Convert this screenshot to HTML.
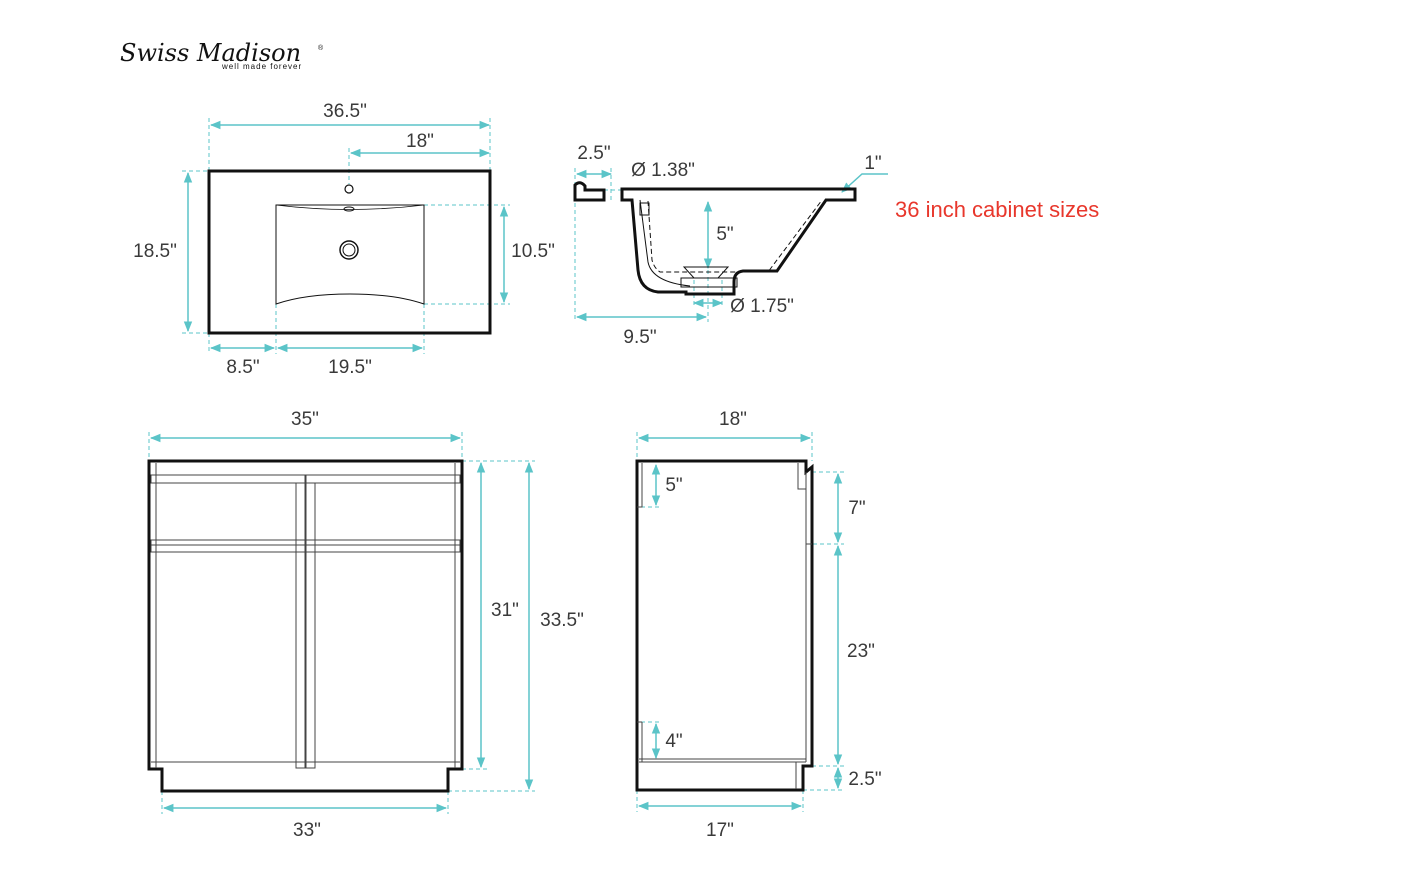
<!DOCTYPE html>
<html><head><meta charset="utf-8"><style>
body{margin:0;background:#fff;width:1402px;height:864px;overflow:hidden}
svg text{font-family:"Liberation Sans",sans-serif;fill:#3a3a3a;font-size:19px}
</style></head><body>
<svg width="1402" height="864" viewBox="0 0 1402 864" xmlns="http://www.w3.org/2000/svg">
<defs>
<marker id="a" viewBox="0 0 10 10" refX="9" refY="5" markerWidth="7" markerHeight="7" orient="auto-start-reverse"><path d="M0,1 L10,5 L0,9 z" fill="#5bc4c8"/></marker>
</defs>
<text x="120" y="61" style="font-family:'DejaVu Serif',serif;font-style:italic;font-size:24px;fill:#111">Swiss Madison</text>
<text x="222" y="69" style="font-size:8px;fill:#111;letter-spacing:1px">well made forever</text>
<text x="318" y="50" style="font-size:7px;fill:#111">®</text>

<g fill="none" stroke="#5bc4c8" stroke-width="1.5">
<line x1="211" y1="125" x2="489" y2="125" marker-start="url(#a)" marker-end="url(#a)"/>
<line x1="351" y1="153" x2="489" y2="153" marker-start="url(#a)" marker-end="url(#a)"/>
<line x1="188" y1="173" x2="188" y2="331" marker-start="url(#a)" marker-end="url(#a)"/>
<line x1="504" y1="207" x2="504" y2="302" marker-start="url(#a)" marker-end="url(#a)"/>
<line x1="211" y1="348" x2="274" y2="348" marker-start="url(#a)" marker-end="url(#a)"/>
<line x1="278" y1="348" x2="422" y2="348" marker-start="url(#a)" marker-end="url(#a)"/>
<line x1="577" y1="174" x2="611" y2="174" marker-start="url(#a)" marker-end="url(#a)"/>
<line x1="708" y1="202" x2="708" y2="268" marker-start="url(#a)" marker-end="url(#a)"/>
<line x1="694" y1="303" x2="722" y2="303" marker-start="url(#a)" marker-end="url(#a)"/>
<line x1="577" y1="317" x2="706" y2="317" marker-start="url(#a)" marker-end="url(#a)"/>
<polyline points="888,174 862,174 842,192" marker-end="url(#a)"/>
<line x1="151" y1="438" x2="460" y2="438" marker-start="url(#a)" marker-end="url(#a)"/>
<line x1="481" y1="463" x2="481" y2="767" marker-start="url(#a)" marker-end="url(#a)"/>
<line x1="529" y1="463" x2="529" y2="789" marker-start="url(#a)" marker-end="url(#a)"/>
<line x1="164" y1="808" x2="446" y2="808" marker-start="url(#a)" marker-end="url(#a)"/>
<line x1="639" y1="438" x2="810" y2="438" marker-start="url(#a)" marker-end="url(#a)"/>
<line x1="639" y1="806" x2="801" y2="806" marker-start="url(#a)" marker-end="url(#a)"/>
<line x1="838" y1="474" x2="838" y2="542" marker-start="url(#a)" marker-end="url(#a)"/>
<line x1="838" y1="546" x2="838" y2="764" marker-start="url(#a)" marker-end="url(#a)"/>
<line x1="838" y1="768" x2="838" y2="788" marker-start="url(#a)" marker-end="url(#a)"/>
<line x1="656" y1="465" x2="656" y2="505" marker-start="url(#a)" marker-end="url(#a)"/>
<line x1="656" y1="724" x2="656" y2="758" marker-start="url(#a)" marker-end="url(#a)"/>
</g>
<g fill="none" stroke="#5bc4c8" stroke-width="1" stroke-dasharray="4,3">
<line x1="209" y1="118" x2="209" y2="171"/><line x1="490" y1="118" x2="490" y2="171"/>
<line x1="349" y1="148" x2="349" y2="184"/>
<line x1="182" y1="171" x2="209" y2="171"/><line x1="182" y1="333" x2="209" y2="333"/>
<line x1="424" y1="205" x2="510" y2="205"/><line x1="424" y1="304" x2="510" y2="304"/>
<line x1="209" y1="333" x2="209" y2="354"/><line x1="276" y1="304" x2="276" y2="354"/><line x1="424" y1="304" x2="424" y2="354"/>
<line x1="575" y1="168" x2="575" y2="322"/><line x1="611" y1="168" x2="611" y2="200"/>
<line x1="604" y1="190" x2="622" y2="190"/>
<line x1="694" y1="280" x2="694" y2="308"/><line x1="722" y1="280" x2="722" y2="308"/>
<line x1="708" y1="270" x2="708" y2="322"/>
<line x1="149" y1="432" x2="149" y2="461"/><line x1="462" y1="432" x2="462" y2="461"/>
<line x1="462" y1="461" x2="535" y2="461"/><line x1="462" y1="769" x2="487" y2="769"/><line x1="448" y1="791" x2="535" y2="791"/>
<line x1="162" y1="791" x2="162" y2="814"/><line x1="448" y1="791" x2="448" y2="814"/>
<line x1="637" y1="432" x2="637" y2="461"/><line x1="812" y1="432" x2="812" y2="461"/>
<line x1="637" y1="790" x2="637" y2="812"/><line x1="803" y1="790" x2="803" y2="812"/>
<line x1="812" y1="472" x2="844" y2="472"/><line x1="806" y1="544" x2="844" y2="544"/>
<line x1="812" y1="766" x2="844" y2="766"/><line x1="803" y1="790" x2="844" y2="790"/>
<line x1="641" y1="507" x2="660" y2="507"/><line x1="641" y1="722" x2="660" y2="722"/>
</g>

<g fill="none" stroke="#111">
<rect x="209" y="171" width="281" height="162" stroke-width="3"/>
<path d="M276,205 H424 V304 Q395,294 350,294 Q305,294 276,304 Z" stroke-width="1"/>
<path d="M276,205 Q350,214 424,205" stroke-width="0.8"/>
<circle cx="349" cy="189" r="4" stroke-width="1.2"/>
<ellipse cx="349" cy="209" rx="5" ry="2" stroke-width="1"/>
<circle cx="349" cy="250" r="9" stroke-width="1.5"/><circle cx="349" cy="250" r="6" stroke-width="1"/>
</g>
<g fill="none" stroke="#111">
<path d="M575,200 V185 Q580,180 585,186 V190 H604 V200 Z" stroke-width="3"/>
<path d="M622,189 H855 V200 H826 L777,271 H743 Q734,272 734,282 V294 H686 V292 H658 Q640,290 638,270 L632,200 H622 Z" stroke-width="3"/>
<path d="M648,201 L652,260 Q654,268 660,272 L768,272 L822,200" stroke-width="1" stroke-dasharray="5,3"/>
<path d="M640,200 L648,262 Q652,282 690,286" stroke-width="1"/>
<rect x="640" y="203" width="9" height="12" stroke-width="1"/>
<path d="M684,267 H728 L718,278 H694 Z" stroke-width="1"/>
<rect x="681" y="278" width="56" height="9" stroke-width="1"/>
</g>
<g fill="none" stroke="#111">
<path d="M149,461 H462 V769 H448 V791 H162 V769 H149 Z" stroke-width="3"/>
<g stroke-width="1" stroke="#444">
<line x1="156" y1="463" x2="156" y2="768"/><line x1="455" y1="463" x2="455" y2="768"/>
<rect x="151" y="475" width="154" height="8"/><rect x="306" y="475" width="154" height="8"/>
<rect x="151" y="540" width="154" height="12"/><rect x="306" y="540" width="154" height="12"/>
<line x1="151" y1="545" x2="460" y2="545"/>
<rect x="296" y="483" width="9" height="285"/><rect x="306" y="483" width="9" height="285"/>
<line x1="151" y1="762" x2="460" y2="762"/>
</g>
</g>
<g fill="none" stroke="#111">
<path d="M637,461 H806 V472 L812,467 V766 H803 V790 H637 Z" stroke-width="3"/>
<g stroke-width="1" stroke="#444">
<path d="M642,463 V507 H637"/><path d="M642,722 V762"/><path d="M637,722 H642"/>
<path d="M798,463 V489 H806"/>
<line x1="806" y1="472" x2="806" y2="762"/><line x1="806" y1="544" x2="812" y2="544"/>
<line x1="639" y1="759" x2="806" y2="759"/><line x1="639" y1="762" x2="806" y2="762"/>
<line x1="796" y1="762" x2="796" y2="789"/>
</g>
</g>

<text x="345" y="117" text-anchor="middle">36.5"</text>
<text x="420" y="147" text-anchor="middle">18"</text>
<text x="155" y="257" text-anchor="middle">18.5"</text>
<text x="533" y="257" text-anchor="middle">10.5"</text>
<text x="243" y="373" text-anchor="middle">8.5"</text>
<text x="350" y="373" text-anchor="middle">19.5"</text>
<text x="594" y="159" text-anchor="middle">2.5"</text>
<text x="663" y="176" text-anchor="middle">Ø 1.38"</text>
<text x="873" y="169" text-anchor="middle">1"</text>
<text x="725" y="240" text-anchor="middle">5"</text>
<text x="762" y="312" text-anchor="middle">Ø 1.75"</text>
<text x="640" y="343" text-anchor="middle">9.5"</text>
<text x="895" y="217" style="fill:#e8372c;font-size:22px">36 inch cabinet sizes</text>
<text x="305" y="425" text-anchor="middle">35"</text>
<text x="505" y="616" text-anchor="middle">31"</text>
<text x="562" y="626" text-anchor="middle">33.5"</text>
<text x="307" y="836" text-anchor="middle">33"</text>
<text x="733" y="425" text-anchor="middle">18"</text>
<text x="720" y="836" text-anchor="middle">17"</text>
<text x="674" y="491" text-anchor="middle">5"</text>
<text x="674" y="747" text-anchor="middle">4"</text>
<text x="857" y="514" text-anchor="middle">7"</text>
<text x="861" y="657" text-anchor="middle">23"</text>
<text x="865" y="785" text-anchor="middle">2.5"</text>
</svg>
</body></html>
